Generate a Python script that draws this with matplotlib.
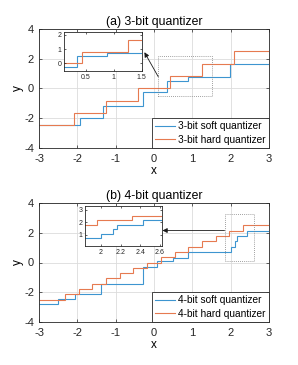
import matplotlib
matplotlib.use("Agg")
import matplotlib.pyplot as plt
from matplotlib.patches import Rectangle
from matplotlib.ticker import FormatStrFormatter

plt.rcParams["font.family"] = ["Liberation Sans", "DejaVu Sans"]
plt.rcParams["axes.unicode_minus"] = False

# ---- data ----
# (a) 3-bit
edges_3_soft = [-3, -1.92, -1.33, -0.30, 0.33, 0.88, 1.98, 3]
vals_3_soft = [-2.5, -2.0, -1.15, -0.25, 0.52, 0.75, 1.65]
edges_3_hard = [-3, -2.08, -1.25, -0.42, 0.42, 1.25, 2.08, 3]
vals_3_hard = [-2.5, -1.67, -0.83, 0.0, 0.83, 1.67, 2.5]

# (b) 4-bit
edges_4_soft = [-3, -2.5, -2.05, -1.39, -0.30, 0.08, 0.5, 0.89, 2.0, 2.12, 2.16, 2.43, 3]
vals_4_soft = [-2.8, -2.45, -2.12, -1.47, -0.27, 0.1, 0.3, 0.7, 1.05, 1.42, 1.8, 2.15]
edges_4_hard = [-3, -2.32, -1.96, -1.61, -1.25, -0.89, -0.54, -0.18, 0.18, 0.54,
                0.89, 1.25, 1.61, 1.96, 2.32, 3]
vals_4_hard = [-2.5, -2.14, -1.79, -1.43, -1.07, -0.71, -0.36, 0.0, 0.36, 0.71,
               1.07, 1.43, 1.79, 2.14, 2.5]

BLUE = "#3D95D0"
ORANGE = "#E67A50"
EDGE = "#262626"

W, H = 298, 365
fig = plt.figure(figsize=(W / 100, H / 100), dpi=100)


def style_axes(ax, fs):
    ax.tick_params(direction="in", top=True, right=True, labelsize=fs,
                   length=2.5, width=0.5, colors=EDGE)
    for s in ax.spines.values():
        s.set_linewidth(0.6)
        s.set_color(EDGE)


def panel(rect, title, es, vs, eh, vh, label_bits, zoom, inset_rect,
          inset_xticks, inset_yticks, arrow_tip, arrow_tail):
    ax = fig.add_axes(rect)
    ax.stairs(vs, es, color=BLUE, lw=0.8, baseline=None,
              label=label_bits + " soft quantizer")
    ax.stairs(vh, eh, color=ORANGE, lw=0.8, baseline=None,
              label=label_bits + " hard quantizer")
    ax.set_xlim(-3, 3)
    ax.set_ylim(-4, 4)
    ax.set_xticks([-3, -2, -1, 0, 1, 2, 3])
    ax.set_yticks([-4, -2, 0, 2, 4])
    ax.grid(True, color="#dcdcdc", lw=0.6)
    ax.set_axisbelow(True)
    style_axes(ax, 8)
    ax.tick_params(axis="x", pad=4.5)
    ax.tick_params(axis="y", pad=3.5)
    ax.set_title(title, fontsize=8.8, pad=3)
    ax.set_xlabel("x", fontsize=8.5, labelpad=0.5)
    ax.set_ylabel("y", fontsize=8.5, labelpad=0)
    leg = ax.legend(loc="lower right", borderaxespad=0, fontsize=7.3,
                    fancybox=False, framealpha=1, edgecolor=EDGE,
                    borderpad=0.3, handletextpad=0.3, labelspacing=0.35,
                    handlelength=2.0)
    leg.get_frame().set_linewidth(0.6)

    x0, x1, y0, y1 = zoom
    ax.add_patch(Rectangle((x0, y0), x1 - x0, y1 - y0, fill=False,
                           ls=(0, (1, 1.5)), lw=0.6, ec="#808080", zorder=3))
    ax.annotate("", xy=arrow_tip, xytext=arrow_tail,
                arrowprops=dict(arrowstyle="-|>", color="#1a1a1a", lw=0.6,
                                mutation_scale=7, shrinkA=0, shrinkB=0))

    ins = fig.add_axes(inset_rect)
    ins.stairs(vs, es, color=BLUE, lw=0.8, baseline=None)
    ins.stairs(vh, eh, color=ORANGE, lw=0.8, baseline=None)
    ins.set_xlim(x0, x1)
    ins.set_ylim(y0, y1)
    ins.set_xticks(inset_xticks)
    ins.set_yticks(inset_yticks)
    ins.xaxis.set_major_formatter(FormatStrFormatter("%g"))
    ins.yaxis.set_major_formatter(FormatStrFormatter("%g"))
    style_axes(ins, 5)
    ins.tick_params(length=1.5, pad=2)
    return ax


panel([39 / W, 1 - 147.7 / H, 230 / W, 118.4 / H], "(a) 3-bit quantizer",
      edges_3_soft, vals_3_soft, edges_3_hard, vals_3_hard, "3-bit",
      (0.11, 1.5, -0.53, 2.22),
      [64.3 / W, 1 - 71 / H, 77.4 / W, 39.3 / H],
      [0.5, 1, 1.5], [0, 1, 2],
      (-0.25, 2.45), (0.11, 0.8))

panel([39 / W, 1 - 322 / H, 230 / W, 119 / H], "(b) 4-bit quantizer",
      edges_4_soft, vals_4_soft, edges_4_hard, vals_4_hard, "4-bit",
      (1.84, 2.62, 0.1, 3.28),
      [85.3 / W, 1 - 246 / H, 76.7 / W, 40 / H],
      [2, 2.2, 2.4, 2.6], [1, 2, 3],
      (0.22, 2.15), (1.84, 2.15))

fig.savefig("out.png", dpi=100)
